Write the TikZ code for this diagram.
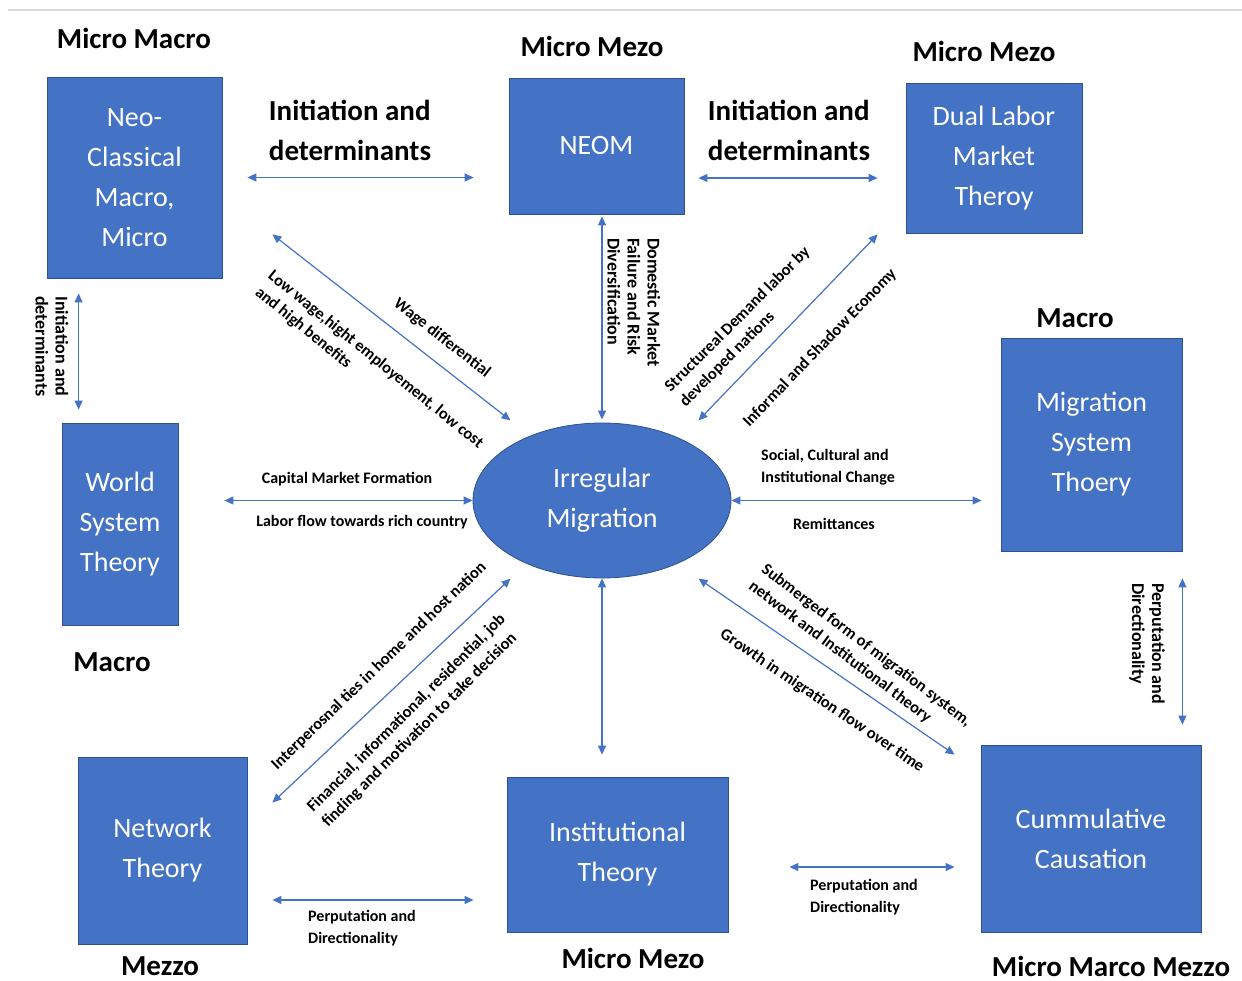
\documentclass[tikz,border=0pt]{standalone}
\usepackage{fontspec}
\setmainfont{Carlito}
\usetikzlibrary{arrows.meta,positioning,calc,shapes.geometric}
\definecolor{theory}{HTML}{4472C4}
\definecolor{theoryedge}{HTML}{2F528F}
\newcommand{\boxfont}{\fontsize{28}{40}\selectfont}
\newcommand{\tagfont}{\fontsize{16}{22}\selectfont\bfseries}

\begin{document}
\begin{tikzpicture}[x=1pt,y=-1pt,
  theorybox/.style={draw=theoryedge,line width=0.8pt,fill=theory,text=white,font=\boxfont,align=center,inner sep=0pt},
  level/.style={font=\fontsize{29}{32}\selectfont\bfseries},
  head/.style={font=\fontsize{29}{40}\selectfont\bfseries,align=left},
  tag/.style={font=\tagfont,align=left,inner sep=0pt},
  dtag/.style={tag,font=\fontsize{16.5}{21}\selectfont\bfseries},
  vtag/.style={tag,rotate=-90,anchor=west,font=\fontsize{18}{20}\selectfont\bfseries},
  link/.style={theory,line width=1.2pt,{Triangle[length=9pt,width=8pt]}-{Triangle[length=9pt,width=8pt]}}]
  \useasboundingbox (0,0) rectangle (1242,981);
  \draw[black!15,line width=2.5pt] (8,10) -- (1242,10);
  % theories
  \node[theorybox,minimum width=175pt,minimum height=201pt] (neo) at (134.5,177.5) {Neo-\\Classical\\Macro,\\Micro};
  \node[theorybox,minimum width=175pt,minimum height=136pt] (neom) at (596.5,146) {NEOM};
  \node[theorybox,minimum width=176pt,minimum height=150pt] (dual) at (994,158) {Dual Labor\\Market\\Theroy};
  \node[theorybox,minimum width=181pt,minimum height=213pt] (msys) at (1091.5,444.5) {Migration\\System\\Thoery};
  \node[theorybox,minimum width=116pt,minimum height=202pt] (world) at (120,524) {World\\System\\Theory};
  \node[theorybox,minimum width=169pt,minimum height=187pt] (net) at (162.5,850.5) {Network\\Theory};
  \node[theorybox,minimum width=221pt,minimum height=155pt] (inst) at (617.5,854.5) {Institutional\\Theory};
  \node[theorybox,minimum width=220pt,minimum height=187pt] (cum) at (1091,838.5) {Cummulative\\Causation};
  \node[theorybox,ellipse,minimum width=258pt,minimum height=155pt] (mig) at (602,500.5) {Irregular\\Migration};
  % levels
  \node[level] (l1) at (134,38) {Micro Macro};
  \node[level] (l2) at (592,46) {Micro Mezo};
  \node[level] (l3) at (984,51) {Micro Mezo};
  \node[level] (l4) at (1075,318) {Macro};
  \node[level] (l5) at (112,662) {Macro};
  \node[level] (l6) at (160,966) {Mezzo};
  \node[level] (l7) at (633,958) {Micro Mezo};
  \node[level] (l8) at (1111,966) {Micro Marco Mezzo};
  % links
  \draw[link] ($(neo.east)+(25,0)$) -- ($(neo.east -| neom.west)+(-35,0)$);
  \draw[link] ($(neom.east |- dual.west)+(14,20)$) -- ($(dual.west)+(-28,20)$);
  \draw[link] ($(neo.south west)+(32,15)$) -- ($(neo.south west |- world.north)+(32,-13)$);
  \draw[link] ($(neo.south east)+(50,-44)$) -- ($(mig.north west)+(0,-25)$);
  \draw[link] ($(mig.north |- neom.south)+(0,2)$) -- ($(mig.north)+(0,-3)$);
  \draw[link] ($(dual.south west)+(-28,1)$) -- ($(mig.north east)+(5,-25)$);
  \draw[link] ($(mig.west -| world.east)+(46,0)$) -- (mig.west);
  \draw[link] (mig.east) -- ($(mig.east -| msys.west)+(-19,0)$);
  \draw[link] ($(mig.south west)+(0,23)$) -- ($(net.north east)+(25,46)$);
  \draw[link] (mig.south) -- ($(mig.south |- inst.north)+(0,-22)$);
  \draw[link] ($(mig.south east)+(5,23)$) -- ($(cum.north west)+(-26,10)$);
  \draw[link] ($(msys.south east)+(0,27)$) -- ($(msys.south east |- cum.north)+(0,-20)$);
  \draw[link] ($(net.east)+(25,49.5)$) -- ($(net.east -| inst.west)+(-33,49.5)$);
  \draw[link] ($(inst.east)+(61,12.5)$) -- ($(inst.east -| cum.west)+(-26,12.5)$);
  % link labels
  \node[head] (id1) at (350,130) {Initiation and\\determinants};
  \node[head] (id2) at (789,130) {Initiation and\\determinants};
  \node[vtag] (id3) at (52,296) {Initiation and\\determinants};
  \node[vtag] (dm) at (634,238) {Domestic Market\\Failure and Risk\\Diversification};
  \node[vtag] (pd1) at (1147,583) {Perputation and\\Directionality};
  \node[dtag,rotate=-38] (wd) at (442,338) {Wage differential};
  \node[dtag,rotate=-39] (lw) at (369,368) {Low wage,hight employement, low cost\\and high benefits};
  \node[dtag,rotate=45] (sd) at (745,327) {Structureal Demand labor by\\developed nations};
  \node[dtag,rotate=46] (se) at (820,348) {Informal and Shadow Economy};
  \node[tag] (cm) at (347,479) {Capital Market Formation};
  \node[tag] (lf) at (362,522) {Labor flow towards rich country};
  \node[tag,anchor=west] (sc) at (761,467) {Social, Cultural and\\Institutional Change};
  \node[tag] (rm) at (834,524) {Remittances};
  \node[dtag,rotate=44] (it) at (379,666) {Interperosnal ties in home and host nation};
  \node[dtag,rotate=45] (fi) at (414,721) {Financial, informational, residential, job\\finding and motivation to take decision};
  \node[dtag,rotate=-37] (sf) at (860,654) {Submerged form of migration system,\\network and Institutional theory};
  \node[dtag,rotate=-34] (gm) at (822,701) {Growth in migration flow over time};
  \node[tag,anchor=west] (pd2) at (308,928) {Perputation and\\Directionality};
  \node[tag,anchor=west] (pd3) at (810,897) {Perputation and\\Directionality};
\end{tikzpicture}
\end{document}
